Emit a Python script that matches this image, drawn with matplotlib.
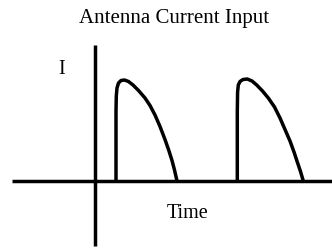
import matplotlib
matplotlib.use("Agg")
from matplotlib import pyplot as plt

# pulse shapes (time, current), arbitrary units
pulse1_time = [21.5, 21.5, 21.8, 22.5, 24.0, 26.5, 30.0, 34.0, 38.5, 44.0, 50.5, 55.5, 60.5, 65.5, 70.5, 74.5, 77.5, 80.0, 82.5]
pulse1_curr = [0, 70, 85, 93, 98, 100.5, 101, 99.5, 96, 90.5, 83, 75.5, 66, 54.5, 41.5, 30, 20.5, 11, 0]
pulse2_time = [142.8, 142.8, 143.1, 143.8, 145.5, 148.5, 152.8, 157.5, 162.2, 168.0, 173.8, 180.0, 185.5, 190.5, 195.5, 199.5, 202.8, 206.0, 208.8]
pulse2_curr = [0, 70, 89, 96, 99.5, 101.5, 102, 100, 96, 90, 83, 74, 63, 51.5, 40, 29, 19, 9.5, 0]

# extent of the hand drawn axes
axis_time = [-82.5, 237.5]
axis_curr = [-65, 136]

title = "Antenna Current Input"
xlabel = "Time"
ylabel = "I"

plt.rcParams['font.family'] = ['Liberation Serif', 'DejaVu Serif']

fig = plt.figure(figsize=(3.32, 2.49), dpi=100)
ax = fig.add_axes([0, 0, 1, 1])
ax.set_xlim(-94.5, 237.5)
ax.set_ylim(-68, 181)
ax.axis('off')

lw = 2.5
ax.plot(axis_time, [0, 0], color='black', lw=lw, solid_capstyle='butt')
ax.plot([0, 0], axis_curr, color='black', lw=lw, solid_capstyle='butt')
ax.plot(pulse1_time, pulse1_curr, color='black', lw=lw, solid_joinstyle='round')
ax.plot(pulse2_time, pulse2_curr, color='black', lw=lw, solid_joinstyle='round')

fig.text(174 / 332, 1 - 18 / 249, title, ha='center', va='center', fontsize=15)
fig.text(188 / 332, 1 - 213 / 249, xlabel, ha='center', va='center', fontsize=14.5)
fig.text(62 / 332, 1 - 70 / 249, ylabel, ha='center', va='center', fontsize=14.5)

fig.savefig("out.png", dpi=100)
